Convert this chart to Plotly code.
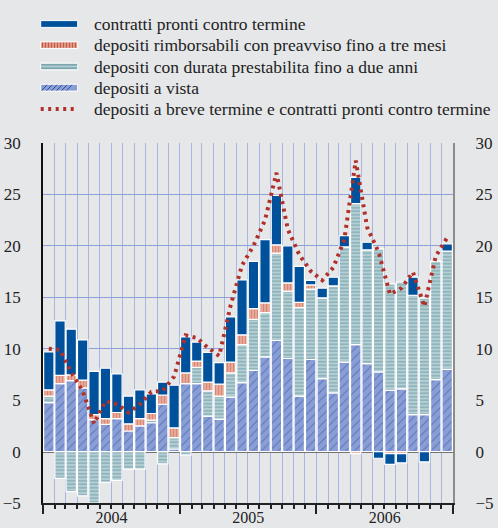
import pandas as pd
import plotly.graph_objects as go

# ---- data (monthly, Jan 2004 - Dec 2006) ----
months = pd.date_range("2004-01-01", periods=36, freq="MS").strftime("%Y-%m").tolist()

vista = [4.75, 6.6, 6.9, 6.2, 3.1, 2.65, 3.2, 2.0, 2.5, 2.8, 4.6, 0.25,
         6.6, 6.6, 3.45, 3.15, 5.3, 6.7, 7.9, 9.2, 10.8, 9.05, 5.4, 8.95,
         7.1, 5.7, 8.7, 10.4, 8.55, 7.75, 5.95, 6.1, 3.6, 3.6, 7.0, 8.0]
durata = [0.65, -2.6, -3.9, -4.3, -5.0, -3.0, -2.8, -1.7, -1.7, 0.25, -1.2, 1.1,
          -0.35, 1.6, 2.45, 2.25, 2.35, 3.7, 4.95, 4.3, 8.5, 6.55, 8.6, 6.85,
          7.85, 10.4, 11.2, 13.7, 11.05, 11.95, 10.35, 10.4, 11.6, 11.35, 11.5, 11.5]
rimb = [0.6, 0.8, 0.55, 0.75, 0.5, 0.55, 0.6, 0.7, 0.7, 0.65, 0.9, 0.95,
        1.05, 0.6, 0.85, 1.15, 1.05, 0.95, 1.05, 0.95, 0.8, 0.8, 0.5, 0.4,
        0.0, 0.0, 0.0, -0.2, 0.0, 0.0, -0.2, -0.2, 0.0, 0.0, 0.0, 0.0]
pct = [3.7, 5.3, 4.45, 3.9, 4.2, 4.9, 3.75, 2.7, 2.8, 1.9, 1.25, 4.15,
       3.5, 1.85, 2.9, 2.1, 4.4, 5.35, 4.6, 6.15, 4.8, 3.6, 3.5, 0.45,
       0.95, 0.85, 1.1, 2.55, 0.75, -0.65, -1.05, -0.9, 1.75, -1.0, 0.0, 0.7]
totale = [10.0, 9.9, 7.7, 5.9, 2.7, 4.9, 4.6, 3.8, 4.6, 5.8, 5.9, 7.3,
          11.3, 11.05, 10.1, 9.3, 14.2, 18.1, 20.0, 22.5, 27.1, 21.6, 19.15, 17.55,
          16.65, 17.9, 20.6, 28.3, 21.8, 19.4, 15.3, 15.9, 17.45, 14.1, 19.0, 20.8]

names = ["contratti pronti contro termine",
         "depositi rimborsabili con preavviso fino a tre mesi",
         "depositi con durata prestabilita fino a due anni",
         "depositi a vista",
         "depositi a breve termine e contratti pronti contro termine"]

FONT = "Liberation Serif"
BG = "#e6e7e9"
C_PCT = "#00519c"
C_RIMB_BG, C_RIMB_FG = "#eab3a3", "#c65a48"
C_DUR_BG, C_DUR_FG = "#b4cfd3", "#6b9aa3"
C_VIS_BG, C_VIS_FG = "#8a9ed6", "#2b4f9e"
C_LINE = "#b0302a"
LINE_DASH = "3px,4.5px"
LINE_W = 4

W, H = 498, 528
ML, MR, MT, MB = 43, 45, 143, 25
PW, PH = W - ML - MR, H - MT - MB

outline = dict(color="white", width=1.2)
fig = go.Figure()
common = dict(x=months, xperiod="M1", xperiodalignment="middle", showlegend=False)

fig.add_trace(go.Bar(y=vista, name=names[3], marker=dict(
    color=C_VIS_BG, line=outline,
    pattern=dict(shape="/", fgcolor=C_VIS_FG, size=6, solidity=0.18)), **common))
fig.add_trace(go.Bar(y=durata, name=names[2], marker=dict(
    color=C_DUR_BG, line=outline,
    pattern=dict(shape="-", fgcolor=C_DUR_FG, size=3.5, solidity=0.5)), **common))
fig.add_trace(go.Bar(y=rimb, name=names[1], marker=dict(
    color=C_RIMB_BG, line=outline,
    pattern=dict(shape="|", fgcolor=C_RIMB_FG, size=3, solidity=0.5)), **common))
fig.add_trace(go.Bar(y=pct, name=names[0], marker=dict(color=C_PCT, line=outline), **common))
fig.add_trace(go.Scatter(y=totale, name=names[4], mode="lines", yaxis="y2",
                         line=dict(color=C_LINE, width=LINE_W, dash=LINE_DASH), **common))

# ---- legend drawn at the top (text annotations + key swatches) ----
def px_x(p):
    return (p - ML) / PW

def px_y(p):
    return (H - MB - p) / PH

shapes, annotations = [], []
row_y = [24, 45.2, 66.5, 87.7, 109]
kx0, kx1, kh = 40.7, 77.7, 6.8
for i, (name, yc) in enumerate(zip(names, row_y)):
    annotations.append(dict(xref="paper", yref="paper", x=px_x(92), y=px_y(yc),
                            xanchor="left", yanchor="middle", showarrow=False,
                            text=name, font=dict(family=FONT, size=17.5, color="#222")))
    y0, y1 = px_y(yc + kh / 2), px_y(yc - kh / 2)
    rect = dict(type="rect", xref="paper", yref="paper", x0=px_x(kx0), x1=px_x(kx1),
                y0=y0, y1=y1, line=dict(width=1, color="white"), layer="above")
    if i == 0:
        shapes.append({**rect, "fillcolor": C_PCT})
    elif i == 1:
        shapes.append({**rect, "fillcolor": C_RIMB_BG})
        shapes.append(dict(type="line", xref="paper", yref="paper",
                           x0=px_x(kx0 + 1), x1=px_x(kx1 - 1), y0=px_y(yc), y1=px_y(yc),
                           line=dict(color=C_RIMB_FG, width=kh - 1.5, dash="1.6px,1.4px"),
                           layer="above"))
    elif i == 2:
        shapes.append({**rect, "fillcolor": C_DUR_BG})
        for dy in (-1.6, 1.6):
            shapes.append(dict(type="line", xref="paper", yref="paper",
                               x0=px_x(kx0 + 0.5), x1=px_x(kx1 - 0.5),
                               y0=px_y(yc + dy), y1=px_y(yc + dy),
                               line=dict(color=C_DUR_FG, width=1.4), layer="above"))
    elif i == 3:
        shapes.append({**rect, "fillcolor": C_VIS_BG})
        path = ""
        x = kx0 + 1
        while x + kh < kx1:
            path += "M%.4f,%.4f L%.4f,%.4f " % (px_x(x), px_y(yc + kh / 2 - 0.5),
                                               px_x(x + kh - 1.5), px_y(yc - kh / 2 + 0.5))
            x += 5
        shapes.append(dict(type="path", xref="paper", yref="paper", path=path.strip(),
                           line=dict(color=C_VIS_FG, width=1), layer="above"))
    else:
        shapes.append(dict(type="line", xref="paper", yref="paper",
                           x0=px_x(kx0), x1=px_x(kx1), y0=px_y(yc), y1=px_y(yc),
                           line=dict(color=C_LINE, width=LINE_W, dash=LINE_DASH),
                           layer="above"))

fig.update_layout(
    width=W, height=H,
    margin=dict(l=ML, r=MR, t=MT, b=MB, autoexpand=False),
    paper_bgcolor=BG, plot_bgcolor=BG,
    barmode="relative", bargap=0.06,
    showlegend=False,
    font=dict(family=FONT, size=17, color="#222"),
    shapes=shapes, annotations=annotations,
    xaxis=dict(type="date", range=["2004-01-01", "2007-01-01"], automargin=False,
               dtick="M12", tick0="2004-01-01", tickformat="%Y",
               ticklabelmode="period", ticks="outside", ticklen=9,
               tickcolor="#222", tickwidth=1.5, ticklabelstandoff=-10,
               showgrid=True, gridcolor="#a9b5e0", gridwidth=1,
               minor=dict(dtick="M1", ticks="outside", ticklen=4, tickcolor="#222",
                          showgrid=True, gridcolor="#a9b5e0", gridwidth=1),
               showline=True, linecolor="#222", linewidth=1.5,
               tickfont=dict(size=16)),
    yaxis=dict(range=[-5, 30], dtick=5, tick0=0, automargin=False,
               showgrid=True, gridcolor="#8fa0d8", gridwidth=1,
               zeroline=True, zerolinecolor="#444", zerolinewidth=1.5,
               showline=True, linecolor="#111", linewidth=1.5,
               ticks="", ticklabelstandoff=17, tickfont=dict(size=17)),
    yaxis2=dict(range=[-5, 30], dtick=5, tick0=0, overlaying="y", side="right",
                automargin=False, showgrid=False, zeroline=False,
                showline=True, linecolor="#8c8c8c", linewidth=2,
                ticks="", ticklabelstandoff=17, tickfont=dict(size=17)),
)

fig.write_html("out.html", config={"displayModeBar": False},
               post_script="document.body.style.margin='0';")
